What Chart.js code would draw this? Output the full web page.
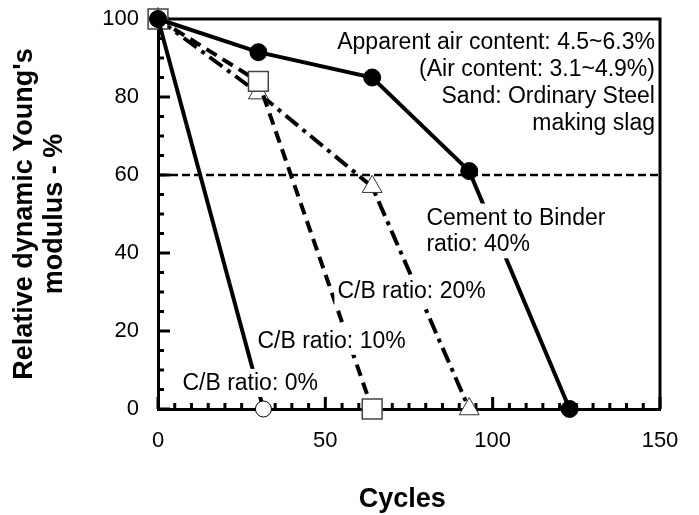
<!DOCTYPE html>
<html><head><meta charset="utf-8">
<script src="https://cdn.jsdelivr.net/npm/chart.js@4/dist/chart.umd.min.js"></script>
<style>html,body{margin:0;padding:0;background:#fff}#wrap{width:699px;height:515px}</style>
</head><body><div id="wrap"><canvas id="c" width="699" height="515"></canvas></div>
<script>
// ---- data ----
const cycles40 = [0, 30, 64, 93, 123];
const modulus40 = [100, 91.5, 85, 61, 0];
const cycles20 = [0, 30, 64, 93];
const modulus20 = [100, 81, 57, 0];
const cycles10 = [0, 30, 64];
const modulus10 = [100, 84, 0];
const cycles0 = [0, 31.5];
const modulus0 = [100, 0];
const refLevel = 60;
const xTickLabels = [0, 50, 100, 150];
const yTickLabels = [0, 20, 40, 60, 80, 100];
const noteText = ['Apparent air content: 4.5~6.3%', '(Air content: 3.1~4.9%)', 'Sand: Ordinary Steel', 'making slag'];
const label40 = ['Cement to Binder', 'ratio: 40%'];
const label20 = ['C/B ratio: 20%'];
const label10 = ['C/B ratio: 10%'];
const label0 = ['C/B ratio: 0%'];
const xTitle = 'Cycles';
const yTitle = ["Relative dynamic Young's", 'modulus - %'];

const FONT = "'Liberation Sans', Arial, sans-serif";
const pts = (xs, ys) => xs.map((x, i) => ({x, y: ys[i]}));

const decor = {
  id: 'decor',
  beforeDatasetsDraw(chart) {
    const {ctx, chartArea: a, scales: {x, y}} = chart;
    ctx.save();
    ctx.strokeStyle = '#000';
    ctx.lineWidth = 3;
    ctx.beginPath();
    ctx.moveTo(a.left, a.top); ctx.lineTo(a.right, a.top); ctx.lineTo(a.right, a.bottom);
    ctx.stroke();
    for (let v = x.min; v <= x.max; v += 5) {
      const px = x.getPixelForValue(v);
      const len = xTickLabels.includes(v) ? 12 : 6;
      ctx.beginPath(); ctx.moveTo(px, a.bottom); ctx.lineTo(px, a.bottom - len); ctx.stroke();
    }
    for (let v = y.min; v <= y.max; v += 5) {
      const py = y.getPixelForValue(v);
      const len = yTickLabels.includes(v) ? 12 : 6;
      ctx.beginPath(); ctx.moveTo(a.left, py); ctx.lineTo(a.left + len, py); ctx.stroke();
    }
    ctx.restore();
  },
  afterDatasetsDraw(chart) {
    const {ctx, scales: {x, y}} = chart;
    const notes = [
      {lines: noteText, x: 148.5, y: 92.2, align: 'right', bg: false},
      {lines: label40, x: 80.2, y: 47.3, align: 'left', bg: true},
      {lines: label20, x: 53.6, y: 28.4, align: 'left', bg: true},
      {lines: label10, x: 29.7, y: 15.7, align: 'left', bg: true},
      {lines: label0, x: 7.3, y: 4.9, align: 'left', bg: true}
    ];
    ctx.save();
    ctx.font = '23px ' + FONT;
    ctx.textBaseline = 'alphabetic';
    const lh = 26.8;
    notes.forEach(n => {
      const px = x.getPixelForValue(n.x);
      const py = y.getPixelForValue(n.y);
      ctx.textAlign = n.align;
      if (n.bg) {
        const w = Math.max(...n.lines.map(s => ctx.measureText(s).width));
        const left = n.align === 'left' ? px : px - w;
        ctx.fillStyle = '#fff';
        ctx.fillRect(left - 3, py - 21, w + 6, lh * (n.lines.length - 1) + 28);
      }
      ctx.fillStyle = '#000';
      n.lines.forEach((s, i) => ctx.fillText(s, px, py + i * lh));
    });
    // x-axis title, centred slightly left of the plot centre as in the original
    ctx.font = 'bold 27px ' + FONT;
    ctx.textAlign = 'center';
    ctx.textBaseline = 'middle';
    ctx.fillText(xTitle, x.getPixelForValue(73), 500);
    ctx.restore();
  }
};

new Chart(document.getElementById('c'), {
  type: 'scatter',
  data: {
    datasets: [
      {label: 'C/B 40%', data: pts(cycles40, modulus40), showLine: true, clip: false, borderColor: '#000', borderWidth: 4,
       pointStyle: 'circle', pointRadius: 8.5, pointBackgroundColor: '#000', pointBorderColor: '#000', pointBorderWidth: 1},
      {label: 'C/B 0%', data: pts(cycles0, modulus0), showLine: true, clip: false, borderColor: '#000', borderWidth: 4,
       pointStyle: 'circle', pointRadius: 8, pointBackgroundColor: '#fff', pointBorderColor: '#000', pointBorderWidth: 1},
      {label: 'C/B 10%', data: pts(cycles10, modulus10), showLine: true, clip: false, borderColor: '#000', borderWidth: 4, borderDash: [12, 7],
       pointStyle: 'rect', pointRadius: 14, pointBackgroundColor: '#fff', pointBorderColor: '#444', pointBorderWidth: 1.5},
      {label: 'C/B 20%', data: pts(cycles20, modulus20), showLine: true, clip: false, borderColor: '#000', borderWidth: 4, borderDash: [16, 6, 4, 6],
       pointStyle: 'triangle', pointRadius: 11.5, pointBackgroundColor: '#fff', pointBorderColor: '#333', pointBorderWidth: 1},
      {label: '60% line', data: [{x: 0, y: refLevel}, {x: 150, y: refLevel}], showLine: true, borderColor: '#000', borderWidth: 2.5,
       borderDash: [8, 4], pointRadius: 0}
    ]
  },
  options: {
    responsive: false, animation: false,
    layout: {padding: {top: 19, right: 39, left: 0, bottom: 0}},
    plugins: {legend: {display: false}, tooltip: {enabled: false}},
    scales: {
      x: {type: 'linear', min: 0, max: 150,
        afterBuildTicks: s => { s.ticks = xTickLabels.map(v => ({value: v})); },
        ticks: {color: '#000', font: {family: FONT, size: 22}, padding: 19, maxRotation: 0, autoSkip: false},
        grid: {display: false, drawTicks: false},
        border: {display: true, width: 3, color: '#000'},
        title: {display: false, text: xTitle},
        afterFit: s => { s.height = 106; s.paddingLeft = 0; s.paddingRight = 0; }
      },
      y: {type: 'linear', min: 0, max: 100,
        afterBuildTicks: s => { s.ticks = yTickLabels.map(v => ({value: v})); },
        ticks: {color: '#000', font: {family: FONT, size: 22}, padding: 19},
        grid: {display: false, drawTicks: false},
        border: {display: true, width: 3, color: '#000'},
        title: {display: true, text: yTitle, color: '#000', font: {family: FONT, size: 27, weight: 'bold', lineHeight: 1.1}, padding: {top: 10, bottom: 0}},
        afterFit: s => { s.width = 158; s.paddingTop = 0; s.paddingBottom = 0; }
      }
    }
  },
  plugins: [decor]
});
</script></body></html>
